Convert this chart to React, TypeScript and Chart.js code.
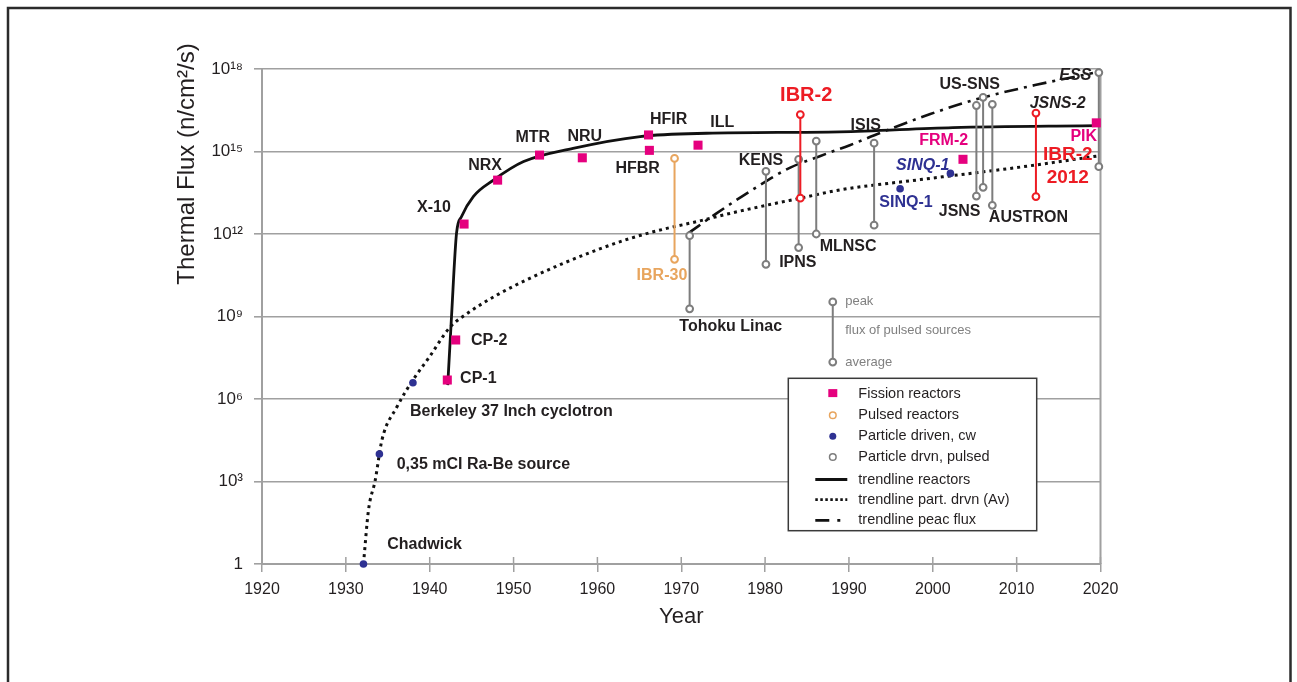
import React, { useEffect, useRef } from "react";
import { Chart, registerables } from "chart.js";

Chart.register(...registerables);

const FONT = '"Liberation Sans", Arial, Helvetica, sans-serif';

// ---------- axes ----------
const xTickValues = [1920, 1930, 1940, 1950, 1960, 1970, 1980, 1990, 2000, 2010, 2020];
const yTickValues = [1, 1e3, 1e6, 1e9, 1e12, 1e15, 1e18];
const yTickLabels = ["1", "10³", "10⁶", "10⁹", "10¹²", "10¹⁵", "10¹⁸"];

// ---------- fission reactors ----------
const fissionNames = ["CP-1", "CP-2", "X-10", "NRX", "MTR", "NRU", "HFIR", "HFBR", "ILL", "FRM-2", "PIK"];
const fissionYears = [1942.1, 1943.1, 1944.1, 1948.1, 1953.1, 1958.2, 1966.1, 1966.2, 1972.0, 2003.6, 2019.5];
const fissionFlux = [4.9e6, 1.4e8, 2.3e12, 9.1e13, 7.4e14, 5.9e14, 4.0e15, 1.1e15, 1.7e15, 5.2e14, 1.1e16];

// ---------- particle driven, cw ----------
const cwNames = ["Chadwick", "0,35 mCI Ra-Be source", "Berkeley 37 Inch cyclotron", "SINQ-1", "SINQ-1"];
const cwYears = [1932.1, 1934.0, 1938.0, 1996.1, 2002.1];
const cwFlux = [1, 1.0e4, 3.9e6, 4.4e13, 1.6e14];

// ---------- pulsed reactors (peak / average) ----------
const pulsedReactorNames = ["IBR-30", "IBR-2", "IBR-2 2012"];
const pulsedReactorYears = [1969.2, 1984.2, 2012.3];
const pulsedReactorPeak = [5.6e14, 2.2e16, 2.5e16];
const pulsedReactorAvg = [1.2e11, 2.0e13, 2.3e13];
const pulsedReactorColors = ["#e8a55e", "#ed1c24", "#ed1c24"];

// ---------- particle driven, pulsed (peak / average) ----------
const pulsedSourceNames = ["Tohoku Linac", "KENS", "IPNS", "MLNSC", "ISIS", "JSNS", "US-SNS", "AUSTRON", "ESS"];
const pulsedSourceYears = [1971.0, 1980.1, 1984.0, 1986.1, 1993.0, 2005.2, 2006.0, 2007.1, 2019.8];
const pulsedSourcePeak = [8.7e11, 1.9e14, 5.2e14, 2.4e15, 2.0e15, 4.7e16, 9.3e16, 5.2e16, 7.4e17];
const pulsedSourceAvg = [1.9e9, 7.9e10, 3.2e11, 1.0e12, 2.1e12, 2.4e13, 5.0e13, 1.1e13, 2.8e14];

// ---------- trendlines ----------
const trendReactorYears = [1942.15, 1942.6, 1943.2, 1943.8, 1945.2, 1947.6, 1951.2, 1957.1, 1965.1, 1973.0, 1988.9, 2002.4, 2019.5];
const trendReactorFlux = [3.2e6, 9.8e8, 1.07e12, 4.3e12, 2.3e13, 9.1e13, 4.3e14, 1.3e15, 3.5e15, 4.6e15, 5.2e15, 7.4e15, 8.7e15];

const trendAvgYears = [1932.1, 1932.7, 1933.5, 1934.3, 1936.1, 1938.0, 1940.0, 1942.4, 1944.8, 1948.0, 1952.0, 1955.9, 1959.9, 1963.9, 1967.9, 1971.8, 1975.8, 1981.0, 1984.2, 1988.9, 1998.5, 2010.4, 2019.7];
const trendAvgFlux = [1, 91, 1.1e3, 3.2e4, 5.2e5, 4.9e6, 3.5e7, 4.0e8, 1.5e9, 6.0e9, 2.5e10, 8.5e10, 2.6e11, 6.9e11, 1.5e12, 2.8e12, 5.6e12, 1.26e13, 2.0e13, 4.0e13, 9.5e13, 2.7e14, 6.9e14];

const trendPeakYears = [1970.9, 1974.2, 1979.0, 1983.0, 1986.6, 1990.1, 1993.7, 1999.7, 2005.3, 2012.2, 2019.1];
const trendPeakFlux = [1.1e12, 5.6e12, 5.1e13, 2.6e14, 6.9e14, 1.7e15, 4.7e15, 2.3e16, 8.1e16, 2.6e17, 7.1e17];

// ---------- text annotations (anchored in data units) ----------
const annotations = [
  { text: "X-10", x: 1940.5, y: 8.9e12, style: "black" },
  { text: "NRX", x: 1946.6, y: 3.2e14, style: "black" },
  { text: "MTR", x: 1952.3, y: 3.1e15, style: "black" },
  { text: "NRU", x: 1958.5, y: 3.6e15, style: "black" },
  { text: "HFIR", x: 1968.5, y: 1.5e16, style: "black" },
  { text: "ILL", x: 1974.9, y: 1.1e16, style: "black" },
  { text: "HFBR", x: 1964.8, y: 2.3e14, style: "black" },
  { text: "IBR-30", x: 1967.7, y: 3.2e10, style: "orange" },
  { text: "IBR-2", x: 1984.9, y: 1.1e17, style: "redBig" },
  { text: "KENS", x: 1979.5, y: 4.5e14, style: "black" },
  { text: "IPNS", x: 1983.9, y: 9.5e10, style: "black" },
  { text: "MLNSC", x: 1989.9, y: 3.4e11, style: "black" },
  { text: "Tohoku Linac", x: 1975.9, y: 4.2e8, style: "black" },
  { text: "ISIS", x: 1992.0, y: 8.5e15, style: "black" },
  { text: "FRM-2", x: 2001.3, y: 2.4e15, style: "magenta" },
  { text: "SINQ-1", x: 1998.8, y: 3.0e14, style: "blueItalic" },
  { text: "SINQ-1", x: 1996.8, y: 1.35e13, style: "blue" },
  { text: "US-SNS", x: 2004.4, y: 2.6e17, style: "black" },
  { text: "JSNS", x: 2003.2, y: 6.3e12, style: "black" },
  { text: "AUSTRON", x: 2011.4, y: 3.8e12, style: "black" },
  { text: "JSNS-2", x: 2014.9, y: 5.4e16, style: "blackItalic" },
  { text: "ESS", x: 2017.0, y: 5.6e17, style: "blackItalic" },
  { text: "PIK", x: 2018.0, y: 3.4e15, style: "magenta" },
  { text: "IBR-2", x: 2016.1, y: 7.4e14, style: "redMid" },
  { text: "2012", x: 2016.1, y: 1.1e14, style: "redMid" },
  { text: "CP-2", x: 1947.1, y: 1.3e8, style: "black" },
  { text: "CP-1", x: 1945.8, y: 5.4e6, style: "black" },
  { text: "Berkeley 37 Inch cyclotron", x: 1937.65, y: 3.5e5, style: "black", align: "left" },
  { text: "0,35 mCI Ra-Be source", x: 1936.06, y: 4.0e3, style: "black", align: "left" },
  { text: "Chadwick", x: 1934.94, y: 4.9, style: "black", align: "left" },
];

// key for pulsed sources
const keyYear = 1988.07;
const keyPeak = 3.4e9;
const keyMid = 3.2e8;
const keyAvg = 2.2e7;
const keyTextYear = 1989.55;
const keyTexts = ["peak", "flux of pulsed sources", "average"];

const legendLabels = [
  "Fission reactors",
  "Pulsed reactors",
  "Particle driven, cw",
  "Particle drvn, pulsed",
  "trendline reactors",
  "trendline part. drvn (Av)",
  "trendline peac flux",
];

// ---------- styles ----------
const MAGENTA = "#e5007e";
const BLUE = "#2e3192";
const GREY = "#7d7d7d";
const ORANGE = "#e8a55e";
const RED = "#ed1c24";
const TEXT = "#231f20";
const GRID = "#a0a0a0";

const labelStyles: Record<string, { font: string; color: string }> = {
  black: { font: `bold 16px ${FONT}`, color: TEXT },
  blackItalic: { font: `italic bold 16px ${FONT}`, color: TEXT },
  magenta: { font: `bold 16px ${FONT}`, color: MAGENTA },
  orange: { font: `bold 16px ${FONT}`, color: ORANGE },
  redBig: { font: `bold 20px ${FONT}`, color: RED },
  redMid: { font: `bold 19px ${FONT}`, color: RED },
  blue: { font: `bold 16px ${FONT}`, color: BLUE },
  blueItalic: { font: `italic bold 16px ${FONT}`, color: BLUE },
};

const DOT_DASH = [3, 4];
const DASH_DOT = [14, 6, 3, 6];

const pts = (xs: number[], ys: number[]) => xs.map((x, i) => ({ x, y: ys[i] }));

const decorPlugin = {
  id: "decor",
  beforeDraw(chart: any) {
    const { ctx, width, height } = chart;
    ctx.save();
    ctx.fillStyle = "#ffffff";
    ctx.fillRect(0, 0, width, height);
    ctx.restore();
  },
  beforeDatasetsDraw(chart: any) {
    const { ctx, chartArea: ca, scales } = chart;
    ctx.save();
    ctx.strokeStyle = GRID;
    ctx.lineWidth = 1.5;
    // small tick marks above the x axis
    xTickValues.forEach((v) => {
      const px = scales.x.getPixelForValue(v);
      ctx.beginPath();
      ctx.moveTo(px, ca.bottom - 7);
      ctx.lineTo(px, ca.bottom);
      ctx.stroke();
    });
    // right border of plot
    ctx.lineWidth = 2;
    ctx.beginPath();
    ctx.moveTo(ca.right, ca.top);
    ctx.lineTo(ca.right, ca.bottom);
    ctx.stroke();
    ctx.restore();
  },
  afterDraw(chart: any) {
    const { ctx, chartArea: ca, scales } = chart;
    const xs = scales.x;
    const ys = scales.y;
    ctx.save();

    // annotations
    ctx.textBaseline = "middle";
    annotations.forEach((a: any) => {
      const st = labelStyles[a.style];
      ctx.font = st.font;
      ctx.fillStyle = st.color;
      ctx.textAlign = a.align === "left" ? "left" : "center";
      ctx.fillText(a.text, xs.getPixelForValue(a.x), ys.getPixelForValue(a.y));
    });

    // pulsed-source key (peak / average)
    const kx = xs.getPixelForValue(keyYear);
    const kp = ys.getPixelForValue(keyPeak);
    const ka = ys.getPixelForValue(keyAvg);
    ctx.strokeStyle = GREY;
    ctx.lineWidth = 2;
    ctx.beginPath();
    ctx.moveTo(kx, kp);
    ctx.lineTo(kx, ka);
    ctx.stroke();
    [kp, ka].forEach((py) => {
      ctx.beginPath();
      ctx.arc(kx, py, 3.4, 0, Math.PI * 2);
      ctx.fillStyle = "#fff";
      ctx.fill();
      ctx.stroke();
    });
    ctx.font = `13px ${FONT}`;
    ctx.fillStyle = "#808080";
    ctx.textAlign = "left";
    const ktx = xs.getPixelForValue(keyTextYear);
    [keyPeak, keyMid, keyAvg].forEach((v, i) => {
      ctx.fillText(keyTexts[i], ktx, ys.getPixelForValue(v));
    });

    // legend box
    const lx = ca.left + 526.3;
    const ly = ca.top + 309.3;
    const lw = 248.4;
    const lh = 152.4;
    ctx.fillStyle = "#fff";
    ctx.fillRect(lx, ly, lw, lh);
    ctx.strokeStyle = "#3a3a3a";
    ctx.lineWidth = 1.5;
    ctx.strokeRect(lx, ly, lw, lh);
    const rowY = [15.3, 37, 58, 78.7, 101.3, 121.3, 142];
    const sx = lx + 44.5;
    ctx.font = `14.5px ${FONT}`;
    legendLabels.forEach((lab, i) => {
      const y = ly + rowY[i];
      ctx.save();
      if (i === 0) {
        ctx.fillStyle = MAGENTA;
        ctx.fillRect(sx - 4.5, y - 4.5, 9, 8);
      } else if (i === 1 || i === 3) {
        ctx.strokeStyle = i === 1 ? ORANGE : GREY;
        ctx.lineWidth = 1.5;
        ctx.beginPath();
        ctx.arc(sx, y, 3.3, 0, Math.PI * 2);
        ctx.stroke();
      } else if (i === 2) {
        ctx.fillStyle = BLUE;
        ctx.beginPath();
        ctx.arc(sx, y, 3.5, 0, Math.PI * 2);
        ctx.fill();
      } else {
        ctx.strokeStyle = "#111";
        ctx.lineWidth = i === 4 ? 3 : 2.8;
        ctx.setLineDash(i === 4 ? [] : i === 5 ? [2.5, 2.5] : [14, 8, 3, 8]);
        ctx.beginPath();
        ctx.moveTo(lx + 27, y);
        ctx.lineTo(lx + 59, y);
        ctx.stroke();
      }
      ctx.restore();
      ctx.fillStyle = TEXT;
      ctx.textAlign = "left";
      ctx.fillText(lab, lx + 70, y);
    });

    // y axis title
    ctx.save();
    ctx.translate(193.5, 164);
    ctx.rotate(-Math.PI / 2);
    ctx.font = `24px ${FONT}`;
    ctx.fillStyle = TEXT;
    ctx.textAlign = "center";
    ctx.textBaseline = "alphabetic";
    ctx.fillText("Thermal Flux (n/cm²/s)", 0, 0);
    ctx.restore();

    // outer frame
    ctx.strokeStyle = "#2b2b2b";
    ctx.lineWidth = 2.5;
    ctx.strokeRect(8, 8, 1282.5, 720);
    ctx.restore();
  },
};

export default function App() {
  const ref = useRef<HTMLCanvasElement>(null);

  useEffect(() => {
    const canvas = ref.current;
    if (!canvas) return;

    const datasets: any[] = [];
    datasets.push({
      label: "Fission reactors",
      data: pts(fissionYears, fissionFlux),
      showLine: false,
      pointStyle: "rect",
      pointRadius: 6.4,
      pointBorderWidth: 0,
      pointBackgroundColor: MAGENTA,
      borderColor: MAGENTA,
      backgroundColor: MAGENTA,
      clip: false,
    });
    datasets.push({
      label: "Particle driven, cw",
      data: pts(cwYears, cwFlux),
      showLine: false,
      pointStyle: "circle",
      pointRadius: 3.8,
      pointBorderWidth: 0,
      pointBackgroundColor: BLUE,
      borderColor: BLUE,
      backgroundColor: BLUE,
      clip: false,
    });
    pulsedReactorNames.forEach((name, i) => {
      datasets.push({
        label: name,
        data: [
          { x: pulsedReactorYears[i], y: pulsedReactorPeak[i] },
          { x: pulsedReactorYears[i], y: pulsedReactorAvg[i] },
        ],
        showLine: true,
        borderColor: pulsedReactorColors[i],
        borderWidth: 2,
        pointRadius: 3.4,
        pointBorderWidth: 2,
        pointBorderColor: pulsedReactorColors[i],
        pointBackgroundColor: "#ffffff",
        clip: false,
      });
    });
    pulsedSourceNames.forEach((name, i) => {
      datasets.push({
        label: name,
        data: [
          { x: pulsedSourceYears[i], y: pulsedSourcePeak[i] },
          { x: pulsedSourceYears[i], y: pulsedSourceAvg[i] },
        ],
        showLine: true,
        borderColor: GREY,
        borderWidth: 2,
        pointRadius: 3.4,
        pointBorderWidth: 2,
        pointBorderColor: GREY,
        pointBackgroundColor: "#ffffff",
        clip: false,
      });
    });
    datasets.push({
      label: "trendline reactors",
      data: pts(trendReactorYears, trendReactorFlux),
      showLine: true,
      borderColor: "#111111",
      borderWidth: 2.8,
      pointRadius: 0,
      cubicInterpolationMode: "monotone",
      clip: false,
    });
    datasets.push({
      label: "trendline part. drvn (Av)",
      data: pts(trendAvgYears, trendAvgFlux),
      showLine: true,
      borderColor: "#111111",
      borderWidth: 3,
      borderDash: DOT_DASH,
      borderCapStyle: "butt",
      pointRadius: 0,
      cubicInterpolationMode: "monotone",
      clip: false,
    });
    datasets.push({
      label: "trendline peac flux",
      data: pts(trendPeakYears, trendPeakFlux),
      showLine: true,
      borderColor: "#111111",
      borderWidth: 2.6,
      borderDash: DASH_DOT,
      pointRadius: 0,
      cubicInterpolationMode: "monotone",
      clip: false,
    });

    const chart = new Chart(canvas, {
      type: "line",
      data: { datasets },
      plugins: [decorPlugin],
      options: {
        animation: false,
        responsive: false,
        maintainAspectRatio: false,
        events: [],
        layout: { padding: { top: 69, right: 196.5, bottom: 0, left: 0 } },
        plugins: {
          legend: { display: false },
          tooltip: { enabled: false },
          title: { display: false },
        },
        scales: {
          x: {
            type: "linear",
            min: 1920,
            max: 2020,
            afterBuildTicks: (s: any) => {
              s.ticks = xTickValues.map((v) => ({ value: v }));
            },
            afterFit: (s: any) => {
              s.height = 118;
            },
            grid: { drawOnChartArea: false, drawTicks: true, tickLength: 8, color: GRID, lineWidth: 1.5 },
            border: { display: true, color: GRID, width: 2 },
            ticks: {
              font: { family: FONT, size: 16 },
              color: TEXT,
              padding: 8,
              maxRotation: 0,
              autoSkip: false,
              callback: (v: any) => String(v),
            },
            title: {
              display: true,
              text: "Year",
              font: { family: FONT, size: 22 },
              color: TEXT,
              padding: { top: 0, bottom: 52 },
            },
          },
          y: {
            type: "logarithmic",
            min: 1,
            max: 1e18,
            afterBuildTicks: (s: any) => {
              s.ticks = yTickValues.map((v) => ({ value: v }));
            },
            afterFit: (s: any) => {
              s.width = 262;
            },
            grid: { color: GRID, lineWidth: 1.6, tickLength: 8 },
            border: { display: true, color: GRID, width: 2 },
            ticks: {
              font: { family: FONT, size: 17 },
              color: TEXT,
              padding: 11,
              autoSkip: false,
              callback: (v: any) => {
                const i = yTickValues.indexOf(Number(v));
                return i >= 0 ? yTickLabels[i] : "";
              },
            },
          },
        },
      } as any,
    });

    return () => chart.destroy();
  }, []);

  return (
    <div style={{ position: "absolute", left: 0, top: 0, width: 1297, height: 682, background: "#fff" }}>
      <canvas ref={ref} width={1297} height={682} style={{ display: "block", width: 1297, height: 682 }} />
    </div>
  );
}
